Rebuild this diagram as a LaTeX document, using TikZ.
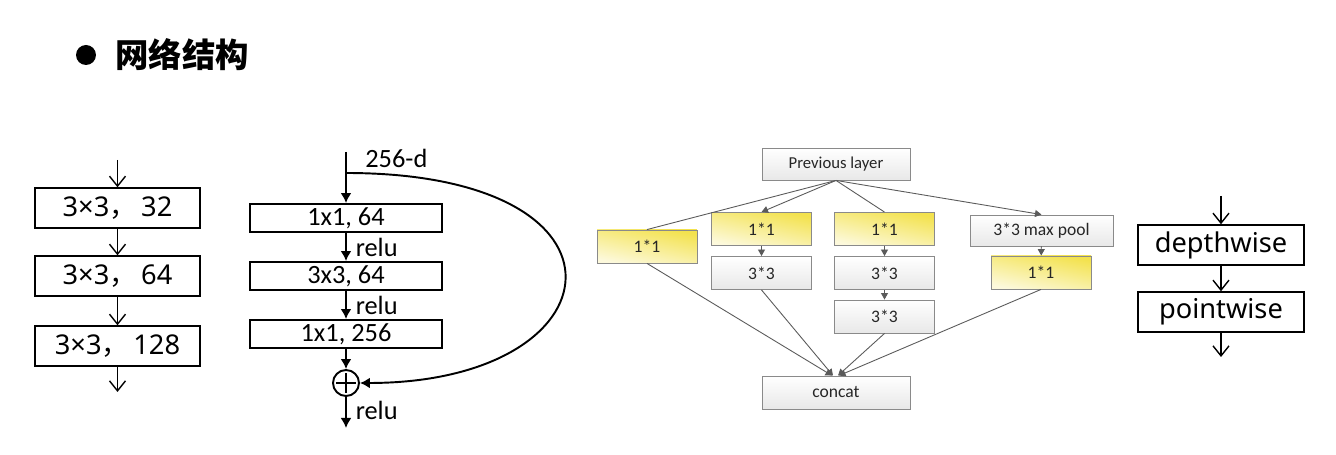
\documentclass[tikz,border=0pt]{standalone}
\usepackage{fontspec}
\usetikzlibrary{arrows.meta,positioning,shapes.geometric}
\newfontfamily\cjkfont{Noto Sans CJK SC}
\newfontfamily\boxfont{Noto Sans}
\newfontfamily\calfont{Carlito}
\definecolor{incYellow}{HTML}{F3E24E}
\definecolor{incGrey}{HTML}{8a8a8a}
\definecolor{incLine}{HTML}{5a5a5a}
\newcommand{\fwc}{{\cjkfont ，}}
\tikzset{
  >={Straight Barb[length=2mm,width=3.2mm]},
  plainbox/.style={draw, line width=0.8pt, minimum width=3.3cm, minimum height=0.8cm,
              inner sep=0pt, font=\boxfont\fontsize{15.5}{18}\selectfont},
  resbox/.style={draw, line width=1.1pt, minimum width=3.84cm, minimum height=0.56cm,
              inner sep=0pt, font=\calfont\fontsize{15}{17}\selectfont},
  reslbl/.style={anchor=west, inner sep=0pt, font=\calfont\fontsize{15}{17}\selectfont},
  incbox/.style={draw=incGrey, line width=0.5pt, top color=white, bottom color=gray!18,
              minimum width=2cm, minimum height=0.66cm, inner sep=0pt,
              font=\calfont\fontsize{10}{12}\selectfont, text=black!85},
  incyel/.style={incbox, top color=incYellow, middle color=incYellow,
              bottom color=incYellow!20, shading angle=-12},
  flow/.style={->, line width=0.8pt},
  resflow/.style={-{Latex[length=2mm,width=2.2mm]}, line width=1.1pt},
  incflow/.style={-{Triangle[length=1.3mm,width=1.4mm]}, draw=incLine, line width=0.5pt},
  incline/.style={draw=incLine, line width=0.5pt},
}
\begin{document}
\begin{tikzpicture}[x=0.02cm,y=-0.02cm]
  \useasboundingbox[fill=white] (0,0) rectangle (1336,455);
  % title
  \node[circle, fill=black, minimum size=0.4cm, inner sep=0pt] (dot) at (86,55) {};
  \node[anchor=west, inner sep=0pt, font=\cjkfont\bfseries\fontsize{19}{22}\selectfont] (title) at (115,55) {网络结构};

  % plain conv stack
  \coordinate (cin) at (117.5,160);
  \node[plainbox] (c1) at (117.5,208) {3×3\fwc\,32};
  \node[plainbox] (c2) at (117.5,276) {3×3\fwc\,64};
  \node[plainbox] (c3) at (117.5,346) {3×3\fwc\,128};
  \coordinate (cout) at (117.5,392);
  \draw[flow] (cin) -- (c1);
  \draw[flow] (c1) -- (c2);
  \draw[flow] (c2) -- (c3);
  \draw[flow] (c3) -- (cout);

  % residual bottleneck
  \coordinate (rin) at (346,152);
  \coordinate (split) at (346,173);
  \node[reslbl] (dim) at (365,158) {256-d};
  \node[resbox] (r1) at (346,218) {1x1, 64};
  \node[resbox] (r2) at (346,276) {3x3, 64};
  \node[resbox] (r3) at (346,334) {1x1, 256};
  \node[circle, draw, line width=1.1pt, minimum size=0.52cm, inner sep=0pt] (add) at (346,383) {};
  \draw[line width=1.1pt] ([yshift=-2.5pt]add.north) -- ([yshift=2.5pt]add.south)
        ([xshift=2.5pt]add.west) -- ([xshift=-2.5pt]add.east);
  \coordinate (rout) at (346,428);
  \draw[resflow] (rin) -- (r1);
  \draw[resflow] (r1) -- node[reslbl, at end, xshift=5pt, yshift=8pt] {relu} (r2);
  \draw[resflow] (r2) -- node[reslbl, at end, xshift=5pt, yshift=8pt] {relu} (r3);
  \draw[resflow] (r3) -- (add);
  \draw[resflow] (add) -- node[reslbl, at end, xshift=5pt, yshift=10pt] {relu} (rout);
  \draw[resflow] (split) .. controls (650,173) and (620,383) .. (add.east);

  % inception module
  \node[incbox, minimum width=2.96cm, minimum height=0.64cm, font=\calfont\fontsize{9.5}{11}\selectfont] (prev) at (836,164) {Previous layer};
  \node[incyel] (a1) at (647,246.5) {1*1};
  \node[incyel] (b1) at (761.5,229) {1*1};
  \node[incbox] (b2) at (761.5,273) {3*3};
  \node[incyel] (d1) at (884.5,229) {1*1};
  \node[incbox] (d2) at (884.5,273) {3*3};
  \node[incbox] (d3) at (884.5,316.5) {3*3};
  \node[incbox, minimum width=2.86cm, minimum height=0.62cm] (pool) at (1041.5,230.5) {3*3 max pool};
  \node[incyel] (p1) at (1041,272.5) {1*1};
  \node[incbox, minimum width=2.96cm] (cat) at (836,392.5) {concat};
  \draw[incline] (prev.south) -- (a1.north);
  \draw[incflow] (prev.south) -- (b1.north);
  \draw[incline] (prev.south) -- (d1.north);
  \draw[incflow] (prev.south) -- (pool.north);
  \draw[incflow] (b1) -- (b2);
  \draw[incflow] (d1) -- (d2);
  \draw[incflow] (d2) -- (d3);
  \draw[incflow] (pool) -- (p1);
  \draw[incflow] (a1.south) -- ([xshift=-0.08cm]cat.north);
  \draw[incflow] (b2.south) -- ([xshift=-0.06cm]cat.north);
  \draw[incflow] (d3.south) -- ([xshift=0.04cm]cat.north);
  \draw[incflow] (p1.south) -- ([xshift=0.06cm]cat.north);

  % depthwise separable
  \coordinate (sin) at (1221,196);
  \node[plainbox, minimum width=3.32cm] (dw) at (1221,245) {depthwise};
  \node[plainbox, minimum width=3.32cm] (pw) at (1221,312) {pointwise};
  \coordinate (sout) at (1221,357);
  \draw[flow] (sin) -- (dw);
  \draw[flow] (dw) -- (pw);
  \draw[flow] (pw) -- (sout);
\end{tikzpicture}
\end{document}
